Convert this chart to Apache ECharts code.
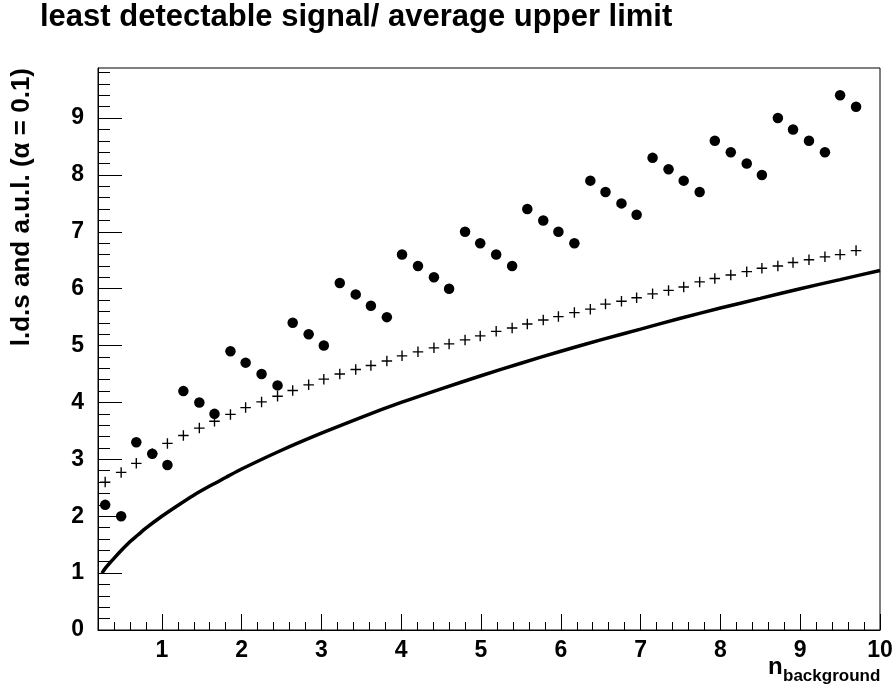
<!DOCTYPE html>
<html>
<head>
<meta charset="utf-8">
<script src="https://cdn.jsdelivr.net/npm/echarts@6/dist/echarts.min.js"></script>
<style>
html,body{margin:0;padding:0;background:#fff;}
#chart{width:896px;height:691px;}
</style>
</head>
<body>
<div id="chart"></div>
<script>
// ---- data ----
const nBackground = [0.29,0.49,0.68,0.88,1.07,1.27,1.47,1.66,1.86,2.05,2.25,2.45,2.64,2.84,3.03,3.23,3.43,3.62,3.82,4.01,4.21,4.41,4.60,4.80,4.99,5.19,5.39,5.58,5.78,5.97,6.17,6.37,6.56,6.76,6.95,7.15,7.35,7.54,7.74,7.93,8.13,8.33,8.52,8.72,8.91,9.11,9.31,9.50,9.70];
const ldsDots = [2.2,2.0, 3.3,3.1,2.9, 4.2,4.0,3.8, 4.9,4.7,4.5,4.3, 5.4,5.2,5.0, 6.1,5.9,5.7,5.5, 6.6,6.4,6.2,6.0, 7.0,6.8,6.6,6.4, 7.4,7.2,7.0,6.8, 7.9,7.7,7.5,7.3, 8.3,8.1,7.9,7.7, 8.6,8.4,8.2,8.0, 9.0,8.8,8.6,8.4, 9.4,9.2];
const aulCrosses = [2.60,2.77,2.93,3.10,3.28,3.42,3.55,3.67,3.79,3.91,4.01,4.11,4.21,4.31,4.41,4.50,4.58,4.65,4.73,4.82,4.89,4.96,5.03,5.10,5.17,5.25,5.31,5.38,5.45,5.51,5.58,5.64,5.73,5.78,5.84,5.91,5.97,6.03,6.12,6.18,6.24,6.30,6.36,6.40,6.46,6.51,6.56,6.60,6.67];
const curveX = [0.25,0.3,0.35,0.4,0.5,0.6,0.7,0.8,1.0,1.2,1.4,1.6,1.8,2.0,2.5,3.0,3.5,4.0,4.5,5.0,5.5,6.0,6.5,7.0,7.5,8.0,8.5,9.0,9.5,10.0];
const curveY = [1.00,1.10,1.18,1.26,1.41,1.55,1.67,1.79,2.00,2.19,2.37,2.53,2.68,2.83,3.16,3.46,3.74,4.00,4.24,4.47,4.69,4.90,5.10,5.29,5.48,5.66,5.83,6.00,6.16,6.32];
const xTickLabels = [1,2,3,4,5,6,7,8,9,10];
const yTickLabels = [0,1,2,3,4,5,6,7,8,9];
const titleText = 'least detectable signal/ average upper limit';
const yTitle = 'l.d.s and a.u.l. (\u03B1 = 0.1)';

// minor tick positions (0.2 steps) for axes
const xMinor = [];
for (let k = 2; k <= 49; k++) { const v = +(k*0.2).toFixed(1); if (Math.abs(v - Math.round(v)) > 1e-6) xMinor.push(v); }
const yMinor = [];
for (let k = 1; k <= 49; k++) { const v = +(k*0.2).toFixed(1); if (Math.abs(v - Math.round(v)) > 1e-6) yMinor.push(v); }

const FONT = '"Liberation Sans", Arial, Helvetica, sans-serif';
const chart = echarts.init(document.getElementById('chart'), null, {renderer:'canvas'});

const dotsData = nBackground.map((x,i)=>[x, ldsDots[i]]);
const crossData = nBackground.map((x,i)=>[x, aulCrosses[i]]);
const curveData = curveX.map((x,i)=>[x, curveY[i]]);

const crossPath = 'path://M0,4.35H10V5.65H0Z M4.35,0H5.65V10H4.35Z';

chart.setOption({
  animation:false,
  backgroundColor:'#fff',
  grid:{left:98,right:16,top:68,bottom:61,show:true,borderColor:'#000',borderWidth:1,backgroundColor:'transparent'},
  xAxis:[
    {type:'value',min:0.2,max:10,position:'bottom',
     axisLine:{show:true,lineStyle:{color:'#000',width:1}},
     axisTick:{show:true,inside:true,length:16,customValues:xTickLabels,lineStyle:{color:'#000',width:1}},
     axisLabel:{show:true,customValues:xTickLabels,margin:9,color:'#000',fontSize:23,fontWeight:'bold',fontFamily:FONT},
     splitLine:{show:false}},
    {type:'value',min:0.2,max:10,position:'bottom',
     axisLine:{show:false},
     axisTick:{show:true,inside:true,length:8,customValues:xMinor,lineStyle:{color:'#000',width:1}},
     axisLabel:{show:false},
     splitLine:{show:false}}
  ],
  yAxis:[
    {type:'value',min:0,max:9.88,position:'left',
     axisLine:{show:true,lineStyle:{color:'#000',width:1}},
     axisTick:{show:true,inside:true,length:24,customValues:yTickLabels,lineStyle:{color:'#000',width:1}},
     axisLabel:{show:true,customValues:yTickLabels,margin:14,color:'#000',fontSize:23,fontWeight:'bold',fontFamily:FONT},
     splitLine:{show:false}},
    {type:'value',min:0,max:9.88,position:'left',
     axisLine:{show:false},
     axisTick:{show:true,inside:true,length:12,customValues:yMinor,lineStyle:{color:'#000',width:1}},
     axisLabel:{show:false},
     splitLine:{show:false}}
  ],
  series:[
    {type:'line',name:'lds curve',data:curveData,xAxisIndex:0,yAxisIndex:0,showSymbol:false,smooth:0.3,
     lineStyle:{color:'#000',width:3.5},z:2},
    {type:'scatter',name:'aul',data:crossData,xAxisIndex:0,yAxisIndex:0,symbol:crossPath,symbolSize:10.5,
     itemStyle:{color:'#000',opacity:1},z:3},
    {type:'scatter',name:'lds',data:dotsData,xAxisIndex:0,yAxisIndex:0,symbol:'circle',symbolSize:10.5,
     itemStyle:{color:'#000',opacity:1},z:4}
  ],
  graphic:[
    {type:'text',x:40,y:17.5,style:{text:titleText,font:'bold 31px '+FONT,fill:'#000',textAlign:'left',textVerticalAlign:'middle'}},
    {type:'text',x:22,y:68,rotation:Math.PI/2,style:{text:yTitle,font:'bold 26px '+FONT,fill:'#000',textAlign:'right',textVerticalAlign:'middle'}},
    {type:'text',x:768,y:667,style:{text:'n',font:'bold 24px '+FONT,fill:'#000',textAlign:'left',textVerticalAlign:'middle'}},
    {type:'text',x:783,y:676,style:{text:'background',font:'bold 17px '+FONT,fill:'#000',textAlign:'left',textVerticalAlign:'middle'}}
  ]
});
</script>
</body>
</html>
